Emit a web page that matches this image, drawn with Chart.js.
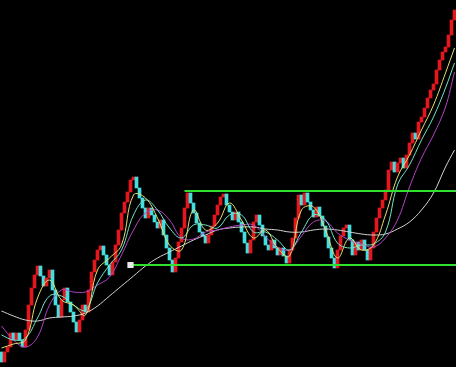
<!DOCTYPE html>
<html>
<head>
<meta charset="utf-8">
<script src="https://cdn.jsdelivr.net/npm/chart.js@4"></script>
<style>
  html, body { margin: 0; padding: 0; background: #000; overflow: hidden; }
  canvas { display: block; background: #000; }
</style>
</head>
<body>
<canvas id="myChart" width="456" height="367"></canvas>
<script>
const ctx = document.getElementById('myChart');

// brick closes, one per column, oldest first
const firstOpen = 9.5;
const closes = [
  8.5, 9.5, 10.0, 11.4, 10.7, 11.4, 10.7, 10.0, 11.7, 14.2,
  15.9, 17.2, 18.1, 17.1, 16.1, 16.9, 17.7, 15.7, 14.2, 13.0,
  14.7, 15.9, 14.5, 13.5, 12.5, 11.5, 12.7, 14.2, 13.5, 15.7,
  17.5, 18.7, 19.7, 20.1, 19.2, 18.2, 17.2, 18.5, 20.2, 21.7,
  23.4, 24.5, 25.5, 26.7, 27.0, 25.9, 24.9, 23.9, 22.9, 23.9,
  23.2, 22.5, 21.9, 22.7, 21.2, 19.9, 18.7, 17.5, 18.9, 20.5,
  21.9, 23.9, 25.4, 24.4, 23.4, 22.4, 21.5, 21.1, 20.4, 21.2,
  22.1, 23.2, 24.2, 25.0, 25.3, 24.2, 23.5, 22.7, 23.5, 22.5,
  21.5, 20.4, 19.4, 20.7, 22.5, 23.2, 22.2, 21.1, 20.2, 19.7,
  20.7, 19.9, 19.2, 19.9, 19.1, 18.4, 19.7, 20.9, 22.9, 25.2,
  24.2, 25.4, 24.5, 23.7, 23.0, 24.0, 23.1, 22.1, 21.0, 19.9,
  18.9, 17.9, 19.7, 21.1, 21.9, 22.2, 20.7, 19.2, 20.5, 19.7,
  20.7, 19.7, 18.7, 19.9, 21.5, 22.9, 23.9, 24.7, 25.7, 27.7,
  28.5, 27.5, 28.4, 28.9, 27.9, 29.2, 30.4, 31.4, 30.8, 32.5,
  33.0, 33.9, 34.9, 35.7, 36.3, 37.7, 38.7, 39.5, 40.0, 41.2,
  42.7, 43.7
];

// moving averages, read at every 4th column
const maIndex = [0, 4, 8, 12, 16, 20, 24, 28, 32, 36, 40, 44, 48, 52, 56, 60, 64, 68, 72, 76,
  80, 84, 88, 92, 96, 100, 104, 108, 112, 116, 120, 124, 128, 132, 136, 140, 144, 148, 151];
const maFast = [9.9, 10.3, 10.7, 14.9, 16.7, 14.7, 14.2, 13.2, 17.7, 18.9, 20.2, 25.2, 24.9, 22.9, 20.2, 19.7, 23.7, 21.7, 22.4, 24.4,
  22.7, 20.9, 21.7, 19.9, 19.1, 23.7, 24.0, 21.7, 18.9, 20.9, 19.7, 20.2, 23.2, 27.0, 29.2, 31.7, 34.2, 37.4, 39.9];
const maMid = [11.2, 10.7, 10.9, 12.9, 15.1, 15.1, 14.2, 13.7, 16.4, 18.2, 19.7, 23.2, 24.7, 23.7, 21.9, 20.9, 22.2, 22.2, 21.9, 23.2,
  23.2, 21.5, 21.5, 20.7, 19.7, 21.5, 23.2, 22.7, 20.4, 19.9, 20.2, 20.3, 21.5, 26.2, 28.2, 30.7, 33.0, 35.9, 38.4];
const maSlow = [12.1, 10.7, 10.0, 11.0, 14.2, 15.7, 15.5, 15.5, 16.2, 17.0, 19.2, 21.7, 23.4, 23.7, 22.7, 20.9, 20.8, 21.5, 21.7, 22.0,
  22.2, 22.2, 21.0, 20.0, 19.7, 21.1, 22.5, 22.6, 21.4, 20.7, 20.3, 20.0, 20.9, 22.7, 26.0, 28.9, 31.2, 34.0, 37.5];
const maLong = [13.6, 13.1, 12.7, 12.6, 12.9, 13.0, 13.1, 13.4, 14.1, 15.1, 16.1, 17.1, 18.1, 18.9, 19.5, 20.1, 20.7, 21.2, 21.7, 21.9,
  22.0, 22.0, 21.8, 21.7, 21.5, 21.5, 21.7, 21.8, 21.7, 21.5, 21.3, 21.2, 21.3, 21.8, 22.5, 23.7, 25.4, 28.0, 29.7];

// drawn box: resistance and support levels with their start columns
const boxLevels = [25.6, 18.2];
const boxStart = [61, 43];
const lastCol = closes.length - 0.5;

const bricks = closes.map((c, i) => ({ x: i, y: [i === 0 ? firstOpen : closes[i - 1], c] }));
const brickColors = bricks.map(b => b.y[1] >= b.y[0] ? '#e4161e' : '#45dede');
const toLine = arr => maIndex.map((x, k) => ({ x: x, y: arr[k] }));

const maLine = (label, arr, color) => ({
  type: 'line',
  label: label,
  data: toLine(arr),
  borderColor: color,
  borderWidth: 1,
  pointRadius: 0,
  tension: 0.4
});

new Chart(ctx, {
  data: {
    datasets: [
      {
        type: 'line',
        label: 'Resistance',
        data: [{ x: boxStart[0], y: boxLevels[0] }, { x: lastCol, y: boxLevels[0] }],
        borderColor: '#2fe02f',
        borderWidth: 2,
        pointRadius: 0
      },
      {
        type: 'line',
        label: 'Support',
        data: [{ x: boxStart[1], y: boxLevels[1] }, { x: lastCol, y: boxLevels[1] }],
        borderColor: '#2fe02f',
        borderWidth: 2,
        pointStyle: 'rect',
        pointRadius: c => c.dataIndex === 0 ? 3 : 0,
        pointBackgroundColor: '#e8e8e8',
        pointBorderColor: '#e8e8e8'
      },
      maLine('MA5', maFast, '#e6e070'),
      maLine('MA10', maMid, '#6fe6c8'),
      maLine('MA20', maSlow, '#b044c4'),
      maLine('MA60', maLong, '#d4d4d4'),
      {
        type: 'bar',
        label: 'Bricks',
        data: bricks,
        backgroundColor: brickColors,
        barPercentage: 1,
        categoryPercentage: 1
      }
    ]
  },
  options: {
    responsive: false,
    devicePixelRatio: 1,
    animation: false,
    layout: { padding: 0, autoPadding: false },
    scales: {
      x: { type: 'linear', min: -0.5, max: 151.5, offset: false, display: false },
      y: { min: 8.0, max: 44.7, display: false }
    },
    plugins: {
      legend: { display: false },
      tooltip: { enabled: false }
    }
  }
});
</script>
</body>
</html>
